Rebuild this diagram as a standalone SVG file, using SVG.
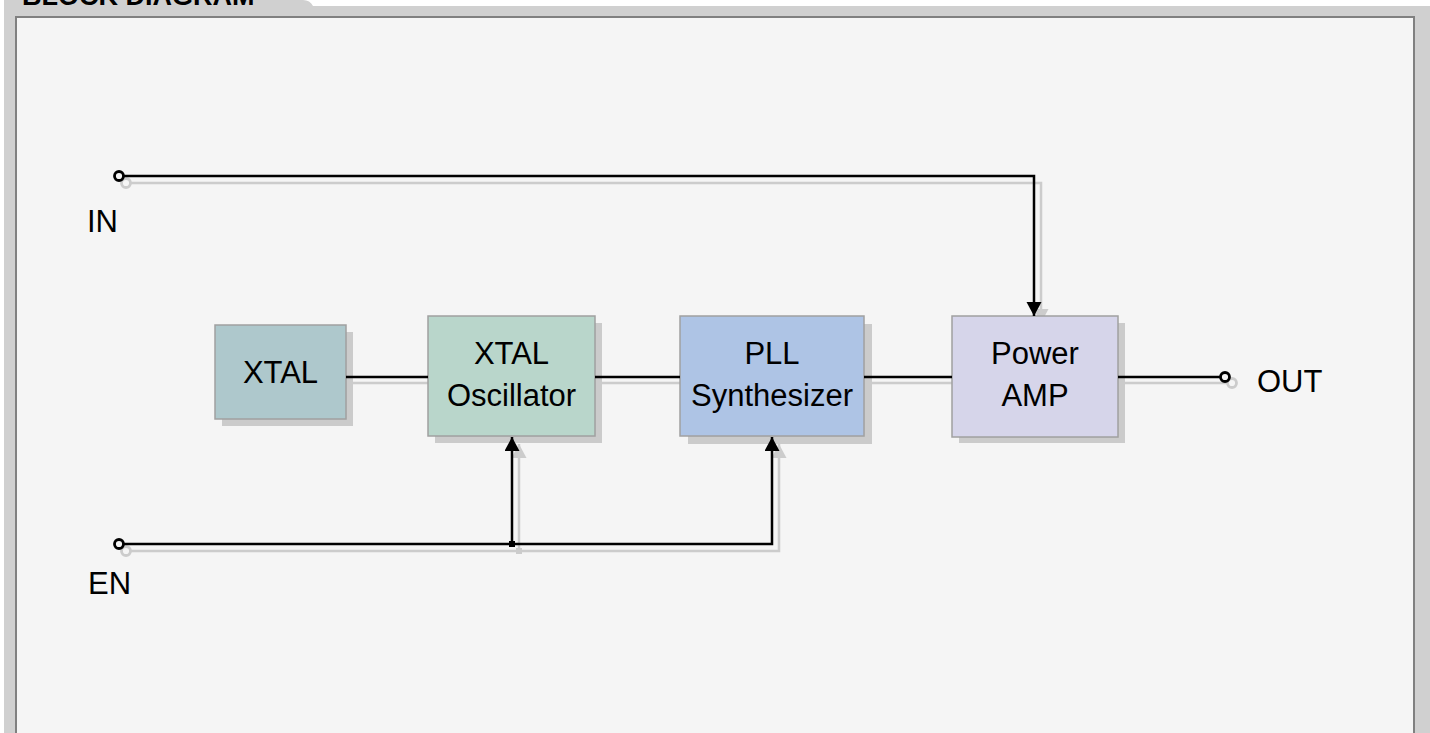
<svg xmlns="http://www.w3.org/2000/svg" width="1430" height="733" viewBox="0 0 1430 733">
<style>
.lbl{font-family:"Liberation Sans",Arial,sans-serif;font-size:31px;fill:#000}
.box{stroke:#a0a0a0;stroke-width:1.5}
.shadow{fill:#cbcbcb}
.wire{fill:none;stroke:#000;stroke-width:2.5}
.wsh{fill:none;stroke:#cccccc;stroke-width:2.5}
.term{fill:#f5f5f5;stroke:#000;stroke-width:2.8}
.tsh{fill:#f5f5f5;stroke:#cccccc;stroke-width:2.8}
</style>
<defs>
<marker id="ah" markerUnits="userSpaceOnUse" markerWidth="18" markerHeight="18" refX="14" refY="7.5" orient="auto"><path d="M0,0 L14,7.5 L0,15 z" fill="#000"/></marker>
<marker id="ahs" markerUnits="userSpaceOnUse" markerWidth="18" markerHeight="18" refX="14" refY="7.5" orient="auto"><path d="M0,0 L14,7.5 L0,15 z" fill="#cccccc"/></marker>
</defs>
<rect width="1430" height="733" fill="#ffffff"/>
<path d="M4,0 H303 Q310,0 313,6 H1430 V733 H4 Z" fill="#d0d0d0"/>
<text x="22" y="5" font-family="Liberation Sans,Arial,sans-serif" font-size="27" font-weight="bold" fill="#000">BLOCK DIAGRAM</text>
<rect x="16" y="17" width="1398" height="720" fill="#f5f5f5" stroke="#808080" stroke-width="2"/>

<g id="connector-shadows">
<circle class="tsh" cx="126" cy="183" r="4.5"/>
<path class="wsh" d="M130,183 H1041 V323" marker-end="url(#ahs)"/>
<circle class="tsh" cx="126" cy="551" r="4.5"/>
<path class="wsh" d="M130,551 H779 V444" marker-end="url(#ahs)"/>
<path class="wsh" d="M519,551 V444" marker-end="url(#ahs)"/>
<rect x="516" y="548" width="6" height="6" fill="#cccccc"/>
<path class="wsh" d="M352,383 H428 M602,383 H680 M871,383 H952 M1125,383 H1227"/>
<circle class="tsh" cx="1232" cy="383" r="4.5"/>
</g>

<g id="node-xtal">
<rect class="shadow" x="222" y="332" width="131" height="94"/>
<rect class="box" x="215" y="325" width="131" height="94" fill="#aec8cc"/>
<text class="lbl" x="280.5" y="383" text-anchor="middle">XTAL</text>
</g>
<g id="node-osc">
<rect class="shadow" x="435" y="323" width="167" height="120"/>
<rect class="box" x="428" y="316" width="167" height="120" fill="#b9d6cb"/>
<text class="lbl" x="511.5" y="364" text-anchor="middle">XTAL</text>
<text class="lbl" x="511.5" y="406" text-anchor="middle">Oscillator</text>
</g>
<g id="node-pll">
<rect class="shadow" x="688" y="324" width="184" height="120"/>
<rect class="box" x="680" y="316" width="184" height="120" fill="#aec4e5"/>
<text class="lbl" x="772" y="364" text-anchor="middle">PLL</text>
<text class="lbl" x="772" y="406" text-anchor="middle">Synthesizer</text>
</g>
<g id="node-amp">
<rect class="shadow" x="959" y="323" width="166" height="120"/>
<rect class="box" x="952" y="316" width="166" height="121" fill="#d6d5ea"/>
<text class="lbl" x="1035" y="364" text-anchor="middle">Power</text>
<text class="lbl" x="1035" y="406" text-anchor="middle">AMP</text>
</g>

<g id="connectors">
<circle class="term" cx="119" cy="176" r="4.5"/>
<path class="wire" d="M123,176 H1034 V316" marker-end="url(#ah)"/>
<circle class="term" cx="119" cy="544" r="4.5"/>
<path class="wire" d="M123,544 H772 V437" marker-end="url(#ah)"/>
<path class="wire" d="M512,544 V437" marker-end="url(#ah)"/>
<rect x="509" y="541" width="6" height="6" fill="#000"/>
<path class="wire" d="M346,377 H428 M595,377 H680 M864,377 H952 M1118,377 H1220"/>
<circle class="term" cx="1225" cy="377" r="4.5"/>
</g>

<g id="labels">
<text class="lbl" x="87" y="232">IN</text>
<text class="lbl" x="88" y="594">EN</text>
<text class="lbl" x="1257" y="392">OUT</text>
</g>
</svg>
